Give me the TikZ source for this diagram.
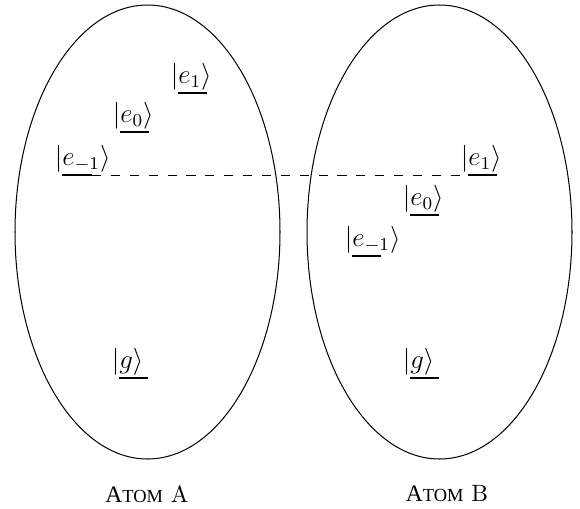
\documentclass[tikz,border=0pt]{standalone}
\usepackage{fontspec}
\newfontfamily\cyr{Liberation Serif}
\begin{document}
\begin{tikzpicture}[x=0.445pt,y=-0.445pt,
  atom/.style={draw,line width=0.45pt},
  lev/.style={line width=1.1pt},
  ket/.style={inner sep=0pt,anchor=south west,font=\fontsize{11.5}{13.5}\selectfont},
  link/.style={line width=0.4pt,dash pattern=on 4.1pt off 4.3pt},
  atomlabel/.style={inner sep=0pt,font=\fontsize{10.5}{12}\selectfont}]
\useasboundingbox (0,0) rectangle (580,508);
% atoms
\draw[atom] (147.5,232) ellipse [x radius=132.5, y radius=227];
\draw[atom] (439.5,232) ellipse [x radius=132.5, y radius=227];
% levels of atom A
\coordinate (Ag1) at (119,378); \coordinate (Ag2) at (148,378);
\coordinate (Am1) at (62,175); \coordinate (Am2) at (92,175);
\coordinate (Az1) at (120,132); \coordinate (Az2) at (149,132);
\coordinate (Ap1) at (178,93); \coordinate (Ap2) at (207,93);
% levels of atom B
\coordinate (Bg1) at (410,378); \coordinate (Bg2) at (439,378);
\coordinate (Bm1) at (352,256); \coordinate (Bm2) at (381,256);
\coordinate (Bz1) at (410,215); \coordinate (Bz2) at (439,215);
\coordinate (Bp1) at (468,175); \coordinate (Bp2) at (497,175);
\foreach \a/\b in {Ag1/Ag2,Am1/Am2,Az1/Az2,Ap1/Ap2,Bg1/Bg2,Bm1/Bm2,Bz1/Bz2,Bp1/Bp2}
  \draw[lev] (\a) -- (\b);
% labels
\node[ket] (kAg) at ([xshift=-3.4pt,yshift=0.9pt]Ag1) {$|g\rangle$};
\node[ket] (kAm) at ([xshift=-3.4pt,yshift=0.9pt]Am1) {$|e_{-1}\rangle$};
\node[ket] (kAz) at ([xshift=-3.4pt,yshift=0.9pt]Az1) {$|e_{0}\rangle$};
\node[ket] (kAp) at ([xshift=-3.4pt,yshift=0.9pt]Ap1) {$|e_{1}\rangle$};
\node[ket] (kBg) at ([xshift=-3.4pt,yshift=0.9pt]Bg1) {$|g\rangle$};
\node[ket] (kBm) at ([xshift=-3.4pt,yshift=0.9pt]Bm1) {$|e_{-1}\rangle$};
\node[ket] (kBz) at ([xshift=-3.4pt,yshift=0.9pt]Bz1) {$|e_{0}\rangle$};
\node[ket] (kBp) at ([xshift=-3.4pt,yshift=0.9pt]Bp1) {$|e_{1}\rangle$};
% dashed connector
\draw[link] (Am2) -- (Bp1);
% captions
\node[atomlabel] (capA) at (147,494) {{\cyr А{\fontsize{8.2}{10}\selectfont ТОМ}} A};
\node[atomlabel] (capB) at (447,494) {{\cyr А{\fontsize{8.2}{10}\selectfont ТОМ}} B};
\end{tikzpicture}
\end{document}
